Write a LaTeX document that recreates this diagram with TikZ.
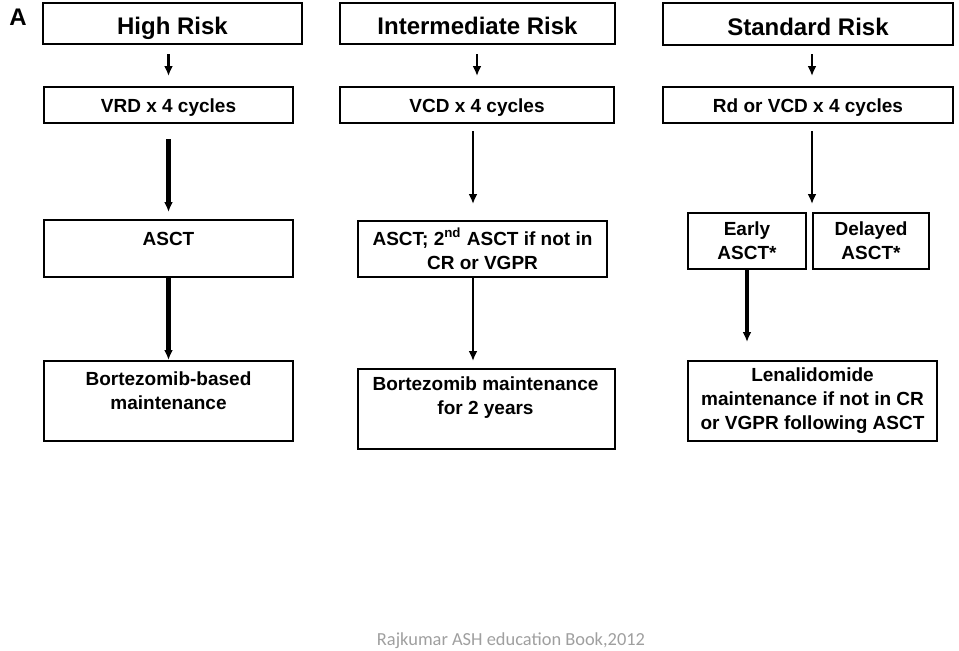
\documentclass[tikz,border=0pt]{standalone}
\usepackage{fontspec}
\setmainfont{Liberation Sans}
\newfontfamily\footfont{Carlito}
\usetikzlibrary{arrows.meta,calc}

\begin{document}
\begin{tikzpicture}[x=.5pt,y=-.5pt,font=\bfseries\fontsize{9.5}{12}\selectfont,
 box/.style={draw,line width=1pt,align=center,inner sep=0pt},
 one/.style={text height=7pt,text depth=0pt},
 head/.style={box,minimum height=20.5pt,text height=11.2pt,text depth=0pt,font=\bfseries\fontsize{12}{14}\selectfont},
 arr/.style={-{Latex[length=5pt,width=4.5pt]},line width=1.4pt},
 thick arr/.style={arr,line width=2.1pt}]
 \useasboundingbox (0,0) rectangle (959,650);
 \node[font=\bfseries\fontsize{12}{14}\selectfont] (panel) at (18,17) {A};
 \node[head,minimum width=129.5pt] (high) at (172.5,23.5) {High Risk};
 \node[head,minimum width=137.5pt] (inter) at (477.5,23.5) {Intermediate Risk};
 \node[head,minimum width=145pt,minimum height=21pt] (std) at (808,24) {Standard Risk};
 \node[box,one,minimum width=124.5pt,minimum height=18pt] (vrd) at (168.5,105) {VRD x 4 cycles};
 \node[box,one,minimum width=137pt,minimum height=18pt] (vcd) at (477,105) {VCD x 4 cycles};
 \node[box,one,minimum width=145pt,minimum height=18pt] (rd) at (808,105) {Rd or VCD x 4 cycles};
 \node[box,minimum width=124.5pt,minimum height=28.5pt] (asctH) at (168.5,248.5) {};
 \node[one] (asctHt) at (168.5,238) {ASCT};
 \node[box,minimum width=124.5pt,minimum height=28pt] (asctI) at (482.5,249) {ASCT; 2\textsuperscript{nd} ASCT if not in\\CR or VGPR};
 \node[box,minimum width=59pt,minimum height=28pt] (early) at (747,241) {Early\\ASCT*};
 \node[box,minimum width=58pt,minimum height=28pt] (delayed) at (871,241) {Delayed\\ASCT*};
 \node[box,minimum width=124.5pt,minimum height=40pt] (bortH) at (168.5,401) {};
 \node[align=center] (bortHt) at (168.5,391) {Bortezomib-based\\maintenance};
 \node[box,minimum width=128.5pt,minimum height=40pt] (bortI) at (486.5,409) {};
 \node[align=center] (bortIt) at (485.5,398) {Bortezomib maintenance\\for 2 years};
 \node[box,minimum width=124.5pt,minimum height=40pt] (lena) at (812.5,401) {Lenalidomide\\maintenance if not in CR\\or VGPR following ASCT};
 \draw[arr,shorten <=4.5pt,shorten >=5pt] (high.south -| vrd.north) -- (vrd.north);
 \draw[thick arr,shorten <=7.5pt,shorten >=3.5pt] (vrd) -- (asctH);
 \draw[thick arr] (asctH) -- (bortH);
 \draw[arr,shorten <=4.5pt,shorten >=5pt] (inter.south -| vcd.north) -- (vcd.north);
 \draw[arr,shorten <=3.5pt,shorten >=8pt] ($(vcd.south)+(-4,0)$) -- ($(asctI.north)+(-9.5,0)$);
 \draw[arr,shorten >=3.5pt] ($(asctI.south)+(-9.5,0)$) -- ($(bortI.north)+(-13.5,0)$);
 \draw[arr,shorten <=4pt,shorten >=5pt] ($(std.south)+(4,0)$) -- ($(rd.north)+(4,0)$);
 \coordinate (split) at (812,204);
 \draw[arr,shorten <=3.5pt] ($(rd.south)+(4,0)$) -- (split);
 \draw[thick arr,shorten >=9pt] (early) -- (early.south |- lena.north);
 \node[font=\footfont\fontsize{9.2}{11}\selectfont,text=gray!75] (src) at (511,641) {Rajkumar ASH education Book,2012};
\end{tikzpicture}
\end{document}
